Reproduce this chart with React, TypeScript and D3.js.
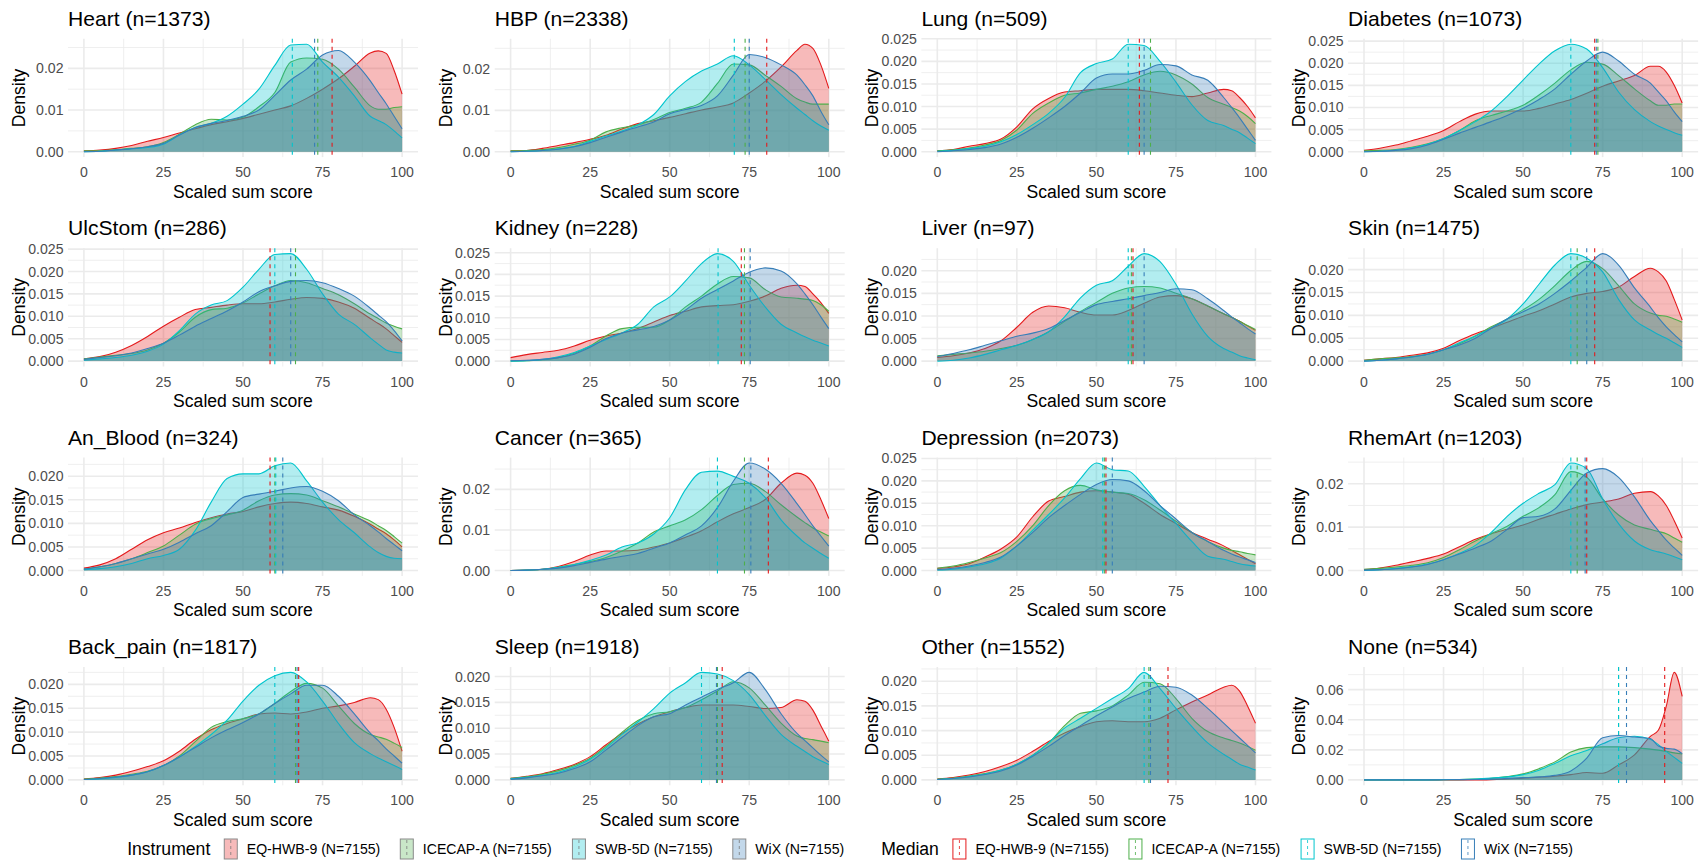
import React, { useMemo } from "react";
import * as d3 from "d3";

// ---------------- data ----------------
const X_GRID = [0, 5, 10, 15, 20, 25, 30, 35, 40, 45, 50, 55, 60, 65, 70, 75, 80, 85, 90, 92.5, 95, 97.5, 100];
const INSTRUMENTS = ["EQ-HWB-9 (N=7155)", "ICECAP-A (N=7155)", "SWB-5D (N=7155)", "WiX (N=7155)"];
const COLORS = ["#E41A1C", "#4DAF4A", "#00C5CD", "#377EB8"];
const X_TICKS = [0, 25, 50, 75, 100];
const X_TITLE = "Scaled sum score";
const Y_TITLE = "Density";

const PANEL_NAMES = ["Heart", "HBP", "Lung", "Diabetes", "UlcStom", "Kidney", "Liver", "Skin", "An_Blood", "Cancer", "Depression", "RhemArt", "Back_pain", "Sleep", "Other", "None"];
const PANEL_N = [1373, 2338, 509, 1073, 286, 228, 97, 1475, 324, 365, 2073, 1203, 1817, 1918, 1552, 534];

const Y_TICK_LABELS = [
  ["0.00", "0.01", "0.02"],
  ["0.00", "0.01", "0.02"],
  ["0.000", "0.005", "0.010", "0.015", "0.020", "0.025"],
  ["0.000", "0.005", "0.010", "0.015", "0.020", "0.025"],
  ["0.000", "0.005", "0.010", "0.015", "0.020", "0.025"],
  ["0.000", "0.005", "0.010", "0.015", "0.020", "0.025"],
  ["0.000", "0.005", "0.010", "0.015", "0.020"],
  ["0.000", "0.005", "0.010", "0.015", "0.020"],
  ["0.000", "0.005", "0.010", "0.015", "0.020"],
  ["0.00", "0.01", "0.02"],
  ["0.000", "0.005", "0.010", "0.015", "0.020", "0.025"],
  ["0.00", "0.01", "0.02"],
  ["0.000", "0.005", "0.010", "0.015", "0.020"],
  ["0.000", "0.005", "0.010", "0.015", "0.020"],
  ["0.000", "0.005", "0.010", "0.015", "0.020"],
  ["0.00", "0.02", "0.04", "0.06"],
];

// medians per panel: [EQ-HWB-9, ICECAP-A, SWB-5D, WiX]
const MEDIANS = [
  [78, 73.5, 65.5, 72.5],
  [80.5, 73.7, 70.3, 75],
  [63.5, 67, 60, 65],
  [72.5, 73.5, 65, 73],
  [58.5, 66.5, 60, 65],
  [72.5, 73.5, 65.2, 75.3],
  [61.5, 61, 60, 65],
  [72.5, 67, 65, 70],
  [58.5, 60, 60.3, 62.5],
  [81, 73.5, 65, 75.5],
  [53, 52.5, 52, 55],
  [70, 67, 65, 69.5],
  [67.5, 66.5, 60, 67],
  [66.5, 65, 60, 64.7],
  [72.5, 66.5, 65, 67],
  [94.5, 80, 80, 82.5],
];

// densities on X_GRID, order: EQ-HWB-9, ICECAP-A, SWB-5D, WiX
const heart = [
  [0.0002, 0.0004, 0.0008, 0.0015, 0.0025, 0.0034, 0.0045, 0.0055, 0.0065, 0.0072, 0.008, 0.009, 0.01, 0.011, 0.0128, 0.015, 0.0175, 0.0205, 0.0237, 0.0242, 0.0236, 0.0195, 0.0138],
  [0.0002, 0.0002, 0.0005, 0.0008, 0.0012, 0.0022, 0.0042, 0.0065, 0.0078, 0.0076, 0.0083, 0.0108, 0.0142, 0.0215, 0.0225, 0.0222, 0.0198, 0.0155, 0.011, 0.0102, 0.0102, 0.0106, 0.0108],
  [0, 0.0001, 0.0004, 0.0007, 0.001, 0.0018, 0.004, 0.0058, 0.0068, 0.0085, 0.0114, 0.015, 0.0207, 0.0256, 0.0258, 0.0215, 0.0179, 0.0134, 0.0085, 0.0075, 0.0065, 0.005, 0.0033],
  [0, 0.0001, 0.0004, 0.0007, 0.0012, 0.002, 0.004, 0.0058, 0.0068, 0.0075, 0.0085, 0.01, 0.0135, 0.0172, 0.0198, 0.0232, 0.0243, 0.0215, 0.017, 0.0142, 0.0115, 0.0085, 0.0055],
];
const hbp = [
  [0.0002, 0.0003, 0.0008, 0.0015, 0.0022, 0.003, 0.004, 0.0055, 0.0068, 0.0075, 0.0083, 0.0092, 0.0101, 0.0108, 0.0118, 0.0142, 0.017, 0.0205, 0.0245, 0.026, 0.025, 0.021, 0.0153],
  [0.0002, 0.0003, 0.0005, 0.001, 0.0018, 0.0028, 0.0048, 0.0058, 0.0065, 0.0078, 0.0095, 0.0105, 0.012, 0.0165, 0.0212, 0.021, 0.0185, 0.0158, 0.0128, 0.012, 0.0115, 0.0115, 0.0115],
  [0, 0.0001, 0.0003, 0.0007, 0.0013, 0.0025, 0.0038, 0.005, 0.0065, 0.009, 0.0135, 0.017, 0.0195, 0.0212, 0.0232, 0.021, 0.0175, 0.0138, 0.0105, 0.009, 0.0075, 0.0062, 0.0052],
  [0, 0.0001, 0.0003, 0.0006, 0.0012, 0.0022, 0.0035, 0.0048, 0.006, 0.0072, 0.0092, 0.0102, 0.0112, 0.0135, 0.0185, 0.0235, 0.0228, 0.021, 0.0185, 0.0162, 0.0135, 0.0098, 0.0065],
];
const lung = [
  [0.0002, 0.0005, 0.0012, 0.0018, 0.0028, 0.0055, 0.0095, 0.0118, 0.0132, 0.0135, 0.0138, 0.0138, 0.0138, 0.0135, 0.013, 0.0125, 0.0122, 0.013, 0.0138, 0.0135, 0.012, 0.01, 0.0075],
  [0.0002, 0.0004, 0.0008, 0.0015, 0.0025, 0.0048, 0.0085, 0.0108, 0.0125, 0.013, 0.0138, 0.0145, 0.0155, 0.017, 0.0178, 0.017, 0.015, 0.012, 0.0105, 0.0098, 0.009, 0.0078, 0.0062],
  [0.0001, 0.0003, 0.0007, 0.0012, 0.0022, 0.0038, 0.006, 0.0085, 0.012, 0.0175, 0.0195, 0.0205, 0.0238, 0.0235, 0.02, 0.0154, 0.0104, 0.0069, 0.0058, 0.005, 0.0042, 0.003, 0.0018],
  [0, 0.0002, 0.0005, 0.0009, 0.0017, 0.0032, 0.0052, 0.0075, 0.01, 0.013, 0.0163, 0.0172, 0.0172, 0.018, 0.0193, 0.019, 0.017, 0.0158, 0.012, 0.0098, 0.0075, 0.005, 0.0025],
];
const diabetes = [
  [0.0003, 0.0008, 0.0015, 0.0025, 0.0035, 0.0048, 0.0068, 0.0085, 0.0092, 0.0092, 0.0092, 0.0098, 0.0108, 0.0118, 0.0132, 0.0148, 0.016, 0.0172, 0.0193, 0.0193, 0.018, 0.015, 0.011],
  [0.0002, 0.0003, 0.0005, 0.001, 0.0018, 0.003, 0.0048, 0.007, 0.0082, 0.0092, 0.0105, 0.0128, 0.0155, 0.0185, 0.0202, 0.0198, 0.0172, 0.0142, 0.0115, 0.0105, 0.0105, 0.0108, 0.0108],
  [0, 0.0001, 0.0004, 0.0009, 0.0017, 0.003, 0.0048, 0.0068, 0.0092, 0.0125, 0.0162, 0.0198, 0.0228, 0.0243, 0.0232, 0.019, 0.0135, 0.0095, 0.0068, 0.0058, 0.005, 0.0043, 0.0037],
  [0, 0.0001, 0.0003, 0.0007, 0.0015, 0.0028, 0.0042, 0.0055, 0.0068, 0.0082, 0.0098, 0.0118, 0.0142, 0.0175, 0.0205, 0.0225, 0.0205, 0.0175, 0.0155, 0.0135, 0.0115, 0.009, 0.0068],
];
const ulcStom = [
  [0.0005, 0.001, 0.002, 0.0035, 0.0055, 0.0078, 0.0098, 0.0115, 0.012, 0.0125, 0.0128, 0.0128, 0.0132, 0.0138, 0.0142, 0.014, 0.0132, 0.0118, 0.0095, 0.0084, 0.0072, 0.0057, 0.0042],
  [0.0005, 0.0009, 0.0013, 0.0017, 0.0025, 0.004, 0.0065, 0.0098, 0.0115, 0.0118, 0.013, 0.015, 0.0168, 0.018, 0.0175, 0.0162, 0.0148, 0.0128, 0.0105, 0.0095, 0.0085, 0.0078, 0.0072],
  [0.0002, 0.0005, 0.0008, 0.0013, 0.0022, 0.0038, 0.0068, 0.0105, 0.0125, 0.0135, 0.0165, 0.0205, 0.0238, 0.024, 0.0205, 0.015, 0.0105, 0.0082, 0.0052, 0.0038, 0.0025, 0.002, 0.0018],
  [0.0004, 0.0008, 0.0012, 0.0018, 0.0028, 0.004, 0.0058, 0.0078, 0.0095, 0.0112, 0.0132, 0.0155, 0.0168, 0.0178, 0.018, 0.0175, 0.0162, 0.0145, 0.0118, 0.0103, 0.0088, 0.0068, 0.0045],
];
const kidney = [
  [0.0008, 0.0015, 0.002, 0.0025, 0.0035, 0.0048, 0.0058, 0.0065, 0.0075, 0.009, 0.0105, 0.0115, 0.0125, 0.0128, 0.013, 0.0138, 0.015, 0.0168, 0.0175, 0.0172, 0.0155, 0.0135, 0.011],
  [0, 0.0001, 0.0003, 0.0008, 0.0018, 0.0035, 0.0058, 0.0075, 0.0078, 0.0078, 0.0095, 0.0125, 0.015, 0.0178, 0.0195, 0.0192, 0.0165, 0.0148, 0.0145, 0.0143, 0.014, 0.013, 0.0115],
  [0, 0.0001, 0.0004, 0.001, 0.002, 0.0035, 0.005, 0.0065, 0.0085, 0.0125, 0.0148, 0.0185, 0.0225, 0.0248, 0.023, 0.0175, 0.0125, 0.0085, 0.0065, 0.0056, 0.0048, 0.0042, 0.0035],
  [0.0001, 0.0002, 0.0004, 0.0008, 0.0016, 0.0032, 0.0052, 0.0065, 0.0072, 0.008, 0.0095, 0.0118, 0.0145, 0.0165, 0.0185, 0.0205, 0.0215, 0.0208, 0.0178, 0.0155, 0.013, 0.0102, 0.0075],
];
const liver = [
  [0.0008, 0.0012, 0.0018, 0.0028, 0.0045, 0.0075, 0.0108, 0.0122, 0.0118, 0.0108, 0.0102, 0.0102, 0.0112, 0.0128, 0.0142, 0.0145, 0.0138, 0.0122, 0.0105, 0.0097, 0.0088, 0.0078, 0.0068],
  [0.0012, 0.0015, 0.0018, 0.0022, 0.0028, 0.0035, 0.0048, 0.0065, 0.0088, 0.011, 0.013, 0.015, 0.0162, 0.0165, 0.0162, 0.015, 0.0138, 0.0122, 0.0105, 0.0097, 0.0088, 0.0079, 0.007],
  [0, 0.0002, 0.0007, 0.0015, 0.0025, 0.0035, 0.0048, 0.0065, 0.0098, 0.014, 0.0168, 0.0178, 0.021, 0.0238, 0.022, 0.017, 0.0105, 0.0055, 0.0028, 0.002, 0.0012, 0.0007, 0.0003],
  [0.001, 0.0017, 0.0025, 0.0035, 0.0045, 0.0055, 0.0062, 0.0072, 0.009, 0.0108, 0.0125, 0.0132, 0.0138, 0.0145, 0.0152, 0.016, 0.0158, 0.0138, 0.0112, 0.0098, 0.0085, 0.0072, 0.006],
];
const skin = [
  [0.0002, 0.0005, 0.0008, 0.0013, 0.0018, 0.0028, 0.0045, 0.006, 0.0072, 0.0085, 0.0098, 0.011, 0.0125, 0.014, 0.0148, 0.0152, 0.0162, 0.0185, 0.0203, 0.0195, 0.0175, 0.0135, 0.009],
  [0.0002, 0.0005, 0.0007, 0.001, 0.0015, 0.0025, 0.0038, 0.0055, 0.0075, 0.0092, 0.0112, 0.0135, 0.0165, 0.0198, 0.0218, 0.0202, 0.0165, 0.0125, 0.0105, 0.01, 0.0098, 0.0092, 0.0085],
  [0, 0.0002, 0.0005, 0.0009, 0.0015, 0.0025, 0.004, 0.0055, 0.0072, 0.0092, 0.0125, 0.0168, 0.021, 0.0235, 0.0225, 0.0195, 0.0135, 0.009, 0.0068, 0.0058, 0.005, 0.004, 0.003],
  [0, 0.0002, 0.0005, 0.0009, 0.0015, 0.0025, 0.0035, 0.005, 0.0072, 0.0092, 0.0108, 0.0125, 0.0148, 0.0175, 0.0205, 0.0235, 0.021, 0.016, 0.0118, 0.0095, 0.0075, 0.0058, 0.0042],
];
const anBlood = [
  [0.0005, 0.0012, 0.0025, 0.0045, 0.0065, 0.008, 0.009, 0.0102, 0.0112, 0.012, 0.0125, 0.0135, 0.0142, 0.0145, 0.0142, 0.0135, 0.0128, 0.0115, 0.0098, 0.0088, 0.0078, 0.0065, 0.005],
  [0.0003, 0.0008, 0.0015, 0.0025, 0.0038, 0.0052, 0.0075, 0.0098, 0.011, 0.0118, 0.0128, 0.0148, 0.016, 0.0163, 0.016, 0.0148, 0.0135, 0.012, 0.0105, 0.0095, 0.0085, 0.0072, 0.0058],
  [0.0002, 0.0004, 0.0008, 0.0015, 0.0025, 0.0032, 0.0045, 0.0085, 0.0145, 0.0195, 0.0205, 0.0205, 0.0222, 0.0228, 0.019, 0.0145, 0.0108, 0.008, 0.005, 0.0038, 0.003, 0.0026, 0.0025],
  [0.0003, 0.0008, 0.0015, 0.0025, 0.0035, 0.0045, 0.006, 0.0078, 0.0095, 0.0125, 0.0155, 0.0162, 0.0168, 0.0175, 0.0178, 0.0168, 0.0148, 0.0118, 0.0095, 0.0082, 0.0068, 0.0055, 0.0042],
];
const cancer = [
  [0, 0.0001, 0.0003, 0.001, 0.0022, 0.0038, 0.0048, 0.0048, 0.005, 0.0058, 0.0068, 0.0082, 0.0098, 0.012, 0.014, 0.0155, 0.0175, 0.0215, 0.024, 0.0235, 0.0215, 0.0175, 0.0128],
  [0, 0.0001, 0.0003, 0.0008, 0.0015, 0.0022, 0.0032, 0.0048, 0.0068, 0.0095, 0.011, 0.0125, 0.015, 0.0185, 0.0212, 0.0215, 0.0195, 0.0162, 0.0132, 0.0118, 0.0105, 0.0095, 0.0085],
  [0, 0.0001, 0.0003, 0.0008, 0.0015, 0.0025, 0.0038, 0.0058, 0.0068, 0.009, 0.013, 0.02, 0.0242, 0.0245, 0.0232, 0.0215, 0.018, 0.0125, 0.0085, 0.0068, 0.0055, 0.0042, 0.003],
  [0, 0.0001, 0.0003, 0.0006, 0.0012, 0.002, 0.0028, 0.0035, 0.0042, 0.0055, 0.0068, 0.0088, 0.011, 0.0155, 0.022, 0.0265, 0.025, 0.0215, 0.0165, 0.0138, 0.011, 0.0085, 0.006],
];
const depression = [
  [0.0005, 0.0008, 0.0015, 0.003, 0.0048, 0.0075, 0.012, 0.0155, 0.0165, 0.0175, 0.0178, 0.0175, 0.017, 0.015, 0.0125, 0.0105, 0.0085, 0.007, 0.0055, 0.0045, 0.0035, 0.0025, 0.0015],
  [0.0005, 0.001, 0.0018, 0.0028, 0.004, 0.0065, 0.01, 0.0145, 0.0178, 0.019, 0.018, 0.0175, 0.0172, 0.0158, 0.0135, 0.011, 0.0085, 0.0065, 0.005, 0.0045, 0.0042, 0.0038, 0.0035],
  [0.0001, 0.0003, 0.0008, 0.0015, 0.0028, 0.0055, 0.009, 0.0125, 0.0162, 0.0205, 0.024, 0.0225, 0.0222, 0.0188, 0.0145, 0.0105, 0.0065, 0.0032, 0.0025, 0.002, 0.0015, 0.0012, 0.001],
  [0.0002, 0.0005, 0.001, 0.0018, 0.003, 0.0055, 0.0085, 0.0118, 0.0145, 0.017, 0.0192, 0.0203, 0.02, 0.0178, 0.0145, 0.0115, 0.0085, 0.0065, 0.0045, 0.0037, 0.003, 0.0024, 0.0018],
];
const rhemArt = [
  [0.0002, 0.0006, 0.0012, 0.002, 0.0028, 0.0038, 0.0055, 0.0072, 0.0085, 0.0095, 0.0105, 0.0118, 0.013, 0.0142, 0.0152, 0.0158, 0.0165, 0.0178, 0.0182, 0.0172, 0.015, 0.0115, 0.0075],
  [0.0003, 0.0005, 0.0008, 0.0012, 0.0018, 0.003, 0.0048, 0.0068, 0.0085, 0.0102, 0.0125, 0.0145, 0.0175, 0.0228, 0.0215, 0.0165, 0.0128, 0.0105, 0.0095, 0.009, 0.0085, 0.0075, 0.0065],
  [0, 0.0002, 0.0005, 0.0009, 0.0015, 0.0025, 0.004, 0.0058, 0.0088, 0.0125, 0.0155, 0.0178, 0.0198, 0.0248, 0.0235, 0.0165, 0.0108, 0.0068, 0.0048, 0.0043, 0.0038, 0.0032, 0.0025],
  [0.0001, 0.0002, 0.0004, 0.0008, 0.0014, 0.0025, 0.0038, 0.0052, 0.0068, 0.0095, 0.0122, 0.0125, 0.0142, 0.0185, 0.0225, 0.0235, 0.0215, 0.017, 0.0115, 0.0092, 0.007, 0.0052, 0.0035],
];
const backPain = [
  [0.0002, 0.0005, 0.001, 0.0018, 0.0028, 0.004, 0.006, 0.0085, 0.0105, 0.0118, 0.0128, 0.0138, 0.014, 0.0138, 0.0142, 0.015, 0.0155, 0.0162, 0.0172, 0.0168, 0.0148, 0.011, 0.006],
  [0.0002, 0.0004, 0.0007, 0.0012, 0.0018, 0.003, 0.005, 0.008, 0.011, 0.0122, 0.0128, 0.0138, 0.016, 0.0185, 0.0202, 0.0192, 0.0155, 0.0118, 0.0095, 0.009, 0.0085, 0.0077, 0.0068],
  [0.0001, 0.0002, 0.0005, 0.001, 0.0017, 0.003, 0.0048, 0.007, 0.0095, 0.0125, 0.0165, 0.0198, 0.0218, 0.0225, 0.0205, 0.0165, 0.0118, 0.0078, 0.0055, 0.0046, 0.0038, 0.003, 0.0022],
  [0.0001, 0.0003, 0.0006, 0.001, 0.0017, 0.003, 0.0048, 0.0068, 0.0088, 0.0105, 0.012, 0.0138, 0.016, 0.018, 0.0198, 0.0198, 0.0175, 0.0138, 0.0098, 0.0082, 0.0065, 0.005, 0.0035],
];
const sleep = [
  [0.0003, 0.0007, 0.0012, 0.002, 0.003, 0.0045, 0.0068, 0.009, 0.0108, 0.0122, 0.0132, 0.014, 0.0145, 0.0145, 0.0145, 0.0142, 0.0138, 0.014, 0.0155, 0.0152, 0.0135, 0.0105, 0.0075],
  [0.0003, 0.0006, 0.0011, 0.0018, 0.0028, 0.0042, 0.0065, 0.0092, 0.0115, 0.0128, 0.0132, 0.014, 0.0155, 0.0172, 0.019, 0.0178, 0.0145, 0.011, 0.0085, 0.008, 0.0078, 0.0075, 0.0072],
  [0.0002, 0.0005, 0.0009, 0.0015, 0.0025, 0.004, 0.0062, 0.0088, 0.0112, 0.0138, 0.0168, 0.0188, 0.0208, 0.0205, 0.0192, 0.0165, 0.0125, 0.0088, 0.0065, 0.0055, 0.0045, 0.0037, 0.003],
  [0.0001, 0.0004, 0.0008, 0.0013, 0.0022, 0.0035, 0.0058, 0.0082, 0.0105, 0.0122, 0.0128, 0.0145, 0.016, 0.0175, 0.0188, 0.0208, 0.0175, 0.0128, 0.009, 0.0076, 0.0062, 0.0048, 0.0035],
];
const other = [
  [0.0002, 0.0005, 0.001, 0.0017, 0.0027, 0.004, 0.0058, 0.0078, 0.0095, 0.0108, 0.0118, 0.012, 0.0118, 0.0118, 0.0125, 0.0142, 0.0158, 0.0172, 0.0188, 0.0192, 0.018, 0.015, 0.0115],
  [0.0002, 0.0004, 0.0008, 0.0013, 0.002, 0.0032, 0.005, 0.0075, 0.011, 0.0135, 0.014, 0.015, 0.0172, 0.0198, 0.0195, 0.0165, 0.0125, 0.0098, 0.0085, 0.008, 0.0075, 0.0068, 0.006],
  [0.0001, 0.0003, 0.0007, 0.0012, 0.002, 0.0032, 0.005, 0.0075, 0.0105, 0.0125, 0.0145, 0.0165, 0.0185, 0.0218, 0.0185, 0.0145, 0.0108, 0.0075, 0.0052, 0.0042, 0.0032, 0.0026, 0.002],
  [0.0001, 0.0003, 0.0006, 0.0011, 0.0018, 0.003, 0.0048, 0.0068, 0.009, 0.011, 0.013, 0.0148, 0.0165, 0.0178, 0.019, 0.0188, 0.0172, 0.0145, 0.0115, 0.01, 0.0085, 0.007, 0.0055],
];
const none = [
  [0, 0, 0, 0, 0, 0, 0, 0, 0.0002, 0.0006, 0.0012, 0.0018, 0.0025, 0.0035, 0.0049, 0.0044, 0.01, 0.0167, 0.029, 0.033, 0.049, 0.0715, 0.0555],
  [0, 0, 0, 0, 0, 0.0001, 0.0002, 0.0005, 0.001, 0.0022, 0.004, 0.0075, 0.012, 0.0185, 0.0215, 0.022, 0.022, 0.0215, 0.0205, 0.0198, 0.019, 0.018, 0.0172],
  [0, 0, 0, 0, 0, 0.0002, 0.0003, 0.0006, 0.0012, 0.002, 0.0035, 0.0065, 0.011, 0.016, 0.0195, 0.024, 0.028, 0.029, 0.027, 0.0235, 0.019, 0.015, 0.011],
  [0, 0, 0, 0, 0, 0.0001, 0.0002, 0.0003, 0.0005, 0.001, 0.0015, 0.002, 0.003, 0.006, 0.0145, 0.028, 0.0295, 0.0285, 0.0275, 0.0225, 0.021, 0.0205, 0.0175],
];

const PANEL_SERIES = [heart, hbp, lung, diabetes, ulcStom, kidney, liver, skin, anBlood, cancer, depression, rhemArt, backPain, sleep, other, none];

// ---------------- layout ----------------
const WIDTH = 1700;
const HEIGHT = 867;
const FONT = "'Liberation Sans', Arial, Helvetica, sans-serif";
const PANEL_W = 350;
const PANEL_H = 118.3;
const COL_X0 = 68;
const COL_STEP = 426.7;
const ROW_Y0 = 38.8;
const ROW_STEP = 209.4;
const FILL_ALPHA = 0.3;
const GRID = "#EBEBEB";

function measure(text: string, size: number): number {
  if (typeof document === "undefined") return text.length * size * 0.55;
  const c = document.createElement("canvas");
  const ctx = c.getContext("2d");
  if (!ctx) return text.length * size * 0.55;
  ctx.font = `${size}px 'Liberation Sans', Arial, sans-serif`;
  return ctx.measureText(text).width;
}

function Panel({ idx }: { idx: number }) {
  const col = idx % 4;
  const row = Math.floor(idx / 4);
  const L = COL_X0 + COL_STEP * col;
  const T = ROW_Y0 + ROW_STEP * row;
  const series = PANEL_SERIES[idx];
  const ymax = d3.max(series.flat()) as number;
  const x = d3.scaleLinear().domain([-5, 105]).range([L, L + PANEL_W]);
  const y = d3.scaleLinear().domain([-0.05 * ymax, 1.05 * ymax]).range([T + PANEL_H, T]);
  const yTicks = Y_TICK_LABELS[idx].map((s) => +s);
  const yStep = yTicks[1] - yTicks[0];
  const yMinor: number[] = [];
  for (let v = yTicks[0] - yStep / 2; v <= 1.05 * ymax; v += yStep) {
    if (v >= -0.05 * ymax) yMinor.push(v);
  }
  const xMinor = [12.5, 37.5, 62.5, 87.5];

  const area = d3
    .area<number>()
    .x((_, i) => x(X_GRID[i]))
    .y0(y(0))
    .y1((d) => y(d))
    .curve(d3.curveMonotoneX);
  const line = d3
    .line<number>()
    .x((_, i) => x(X_GRID[i]))
    .y((d) => y(d))
    .curve(d3.curveMonotoneX);

  const bottom = T + PANEL_H;
  return (
    <g>
      {yMinor.map((v, i) => (
        <line key={"ym" + i} x1={L} x2={L + PANEL_W} y1={y(v)} y2={y(v)} stroke={GRID} strokeWidth={0.8} />
      ))}
      {xMinor.map((v, i) => (
        <line key={"xm" + i} x1={x(v)} x2={x(v)} y1={T} y2={bottom} stroke={GRID} strokeWidth={0.8} />
      ))}
      {yTicks.map((v, i) => (
        <line key={"yM" + i} x1={L} x2={L + PANEL_W} y1={y(v)} y2={y(v)} stroke={GRID} strokeWidth={1.6} />
      ))}
      {X_TICKS.map((v, i) => (
        <line key={"xM" + i} x1={x(v)} x2={x(v)} y1={T} y2={bottom} stroke={GRID} strokeWidth={1.6} />
      ))}
      {series.map((s, i) => (
        <g key={"s" + i}>
          <path d={area(s) || ""} fill={COLORS[i]} fillOpacity={FILL_ALPHA} stroke="none" />
          <path d={line(s) || ""} fill="none" stroke={COLORS[i]} strokeWidth={1.1} />
        </g>
      ))}
      {MEDIANS[idx].map((m, i) => (
        <line key={"m" + i} x1={x(m)} x2={x(m)} y1={T} y2={bottom} stroke={COLORS[i]} strokeWidth={1.1} strokeDasharray="4,4" />
      ))}
      {yTicks.map((v, i) => (
        <text key={"yl" + i} x={L - 4.5} y={y(v) + 5} textAnchor="end" fontSize={14.1} fill="#4D4D4D" fontFamily={FONT}>
          {Y_TICK_LABELS[idx][i]}
        </text>
      ))}
      {X_TICKS.map((v, i) => (
        <text key={"xl" + i} x={x(v)} y={bottom + 20} textAnchor="middle" fontSize={14.1} fill="#4D4D4D" fontFamily={FONT}>
          {v}
        </text>
      ))}
      <text x={L + PANEL_W / 2} y={bottom + 40.4} textAnchor="middle" fontSize={17.6} fill="#000" fontFamily={FONT}>
        {X_TITLE}
      </text>
      <text
        transform={`translate(${L - 43},${T + PANEL_H / 2}) rotate(-90)`}
        textAnchor="middle"
        fontSize={17.6}
        fill="#000"
        fontFamily={FONT}
      >
        {Y_TITLE}
      </text>
      <text x={L} y={T - 12.8} fontSize={21.1} fill="#000" fontFamily={FONT}>
        {`${PANEL_NAMES[idx]} (n=${PANEL_N[idx]})`}
      </text>
    </g>
  );
}

function Legend() {
  const layout = useMemo(() => {
    const titleSize = 17.6;
    const textSize = 14.1;
    const keyW = 14;
    const keyH = 20;
    const gapTitle = 13.5;
    const gapKeyText = 9;
    const gapItem = 19.5;
    const gapLegends = 37;
    const build = (title: string) => {
      const tw = measure(title, titleSize);
      let cx = tw + gapTitle;
      const items = INSTRUMENTS.map((lab) => {
        const lw = measure(lab, textSize);
        const it = { keyX: cx, textX: cx + keyW + gapKeyText, label: lab };
        cx += keyW + gapKeyText + lw + gapItem;
        return it;
      });
      return { title, width: cx - gapItem, items };
    };
    const a = build("Instrument");
    const b = build("Median");
    const total = a.width + gapLegends + b.width;
    const start = WIDTH / 2 - total / 2;
    return { a, b, startA: start, startB: start + a.width + gapLegends, keyW, keyH, titleSize, textSize };
  }, []);
  const cy = 849;
  const { keyW, keyH } = layout;
  const renderLegend = (lg: any, x0: number, filled: boolean) => (
    <g transform={`translate(${x0},0)`}>
      <text x={0} y={cy + 6} fontSize={layout.titleSize} fontFamily={FONT} fill="#000">
        {lg.title}
      </text>
      {lg.items.map((it: any, i: number) => (
        <g key={i}>
          <rect
            x={it.keyX + 0.5}
            y={cy - keyH / 2}
            width={keyW - 1}
            height={keyH}
            fill={filled ? COLORS[i] : "#fff"}
            fillOpacity={filled ? FILL_ALPHA : 1}
            stroke={filled ? "#8a8a8a" : COLORS[i]}
            strokeWidth={1}
          />
          <line
            x1={it.keyX + keyW / 2}
            x2={it.keyX + keyW / 2}
            y1={cy - keyH / 2 + 1}
            y2={cy + keyH / 2 - 1}
            stroke={filled ? "#7a7a7a" : COLORS[i]}
            strokeWidth={0.8}
            strokeDasharray="3,3"
          />
          <text x={it.textX} y={cy + 5} fontSize={layout.textSize} fontFamily={FONT} fill="#000">
            {it.label}
          </text>
        </g>
      ))}
    </g>
  );
  return (
    <g>
      {renderLegend(layout.a, layout.startA, true)}
      {renderLegend(layout.b, layout.startB, false)}
    </g>
  );
}

export default function App() {
  return (
    <svg
      width={WIDTH}
      height={HEIGHT}
      viewBox={`0 0 ${WIDTH} ${HEIGHT}`}
      style={{ position: "absolute", left: 0, top: 0, background: "#fff" }}
    >
      <rect x={0} y={0} width={WIDTH} height={HEIGHT} fill="#fff" />
      {PANEL_NAMES.map((_, i) => (
        <Panel key={i} idx={i} />
      ))}
      <Legend />
    </svg>
  );
}
